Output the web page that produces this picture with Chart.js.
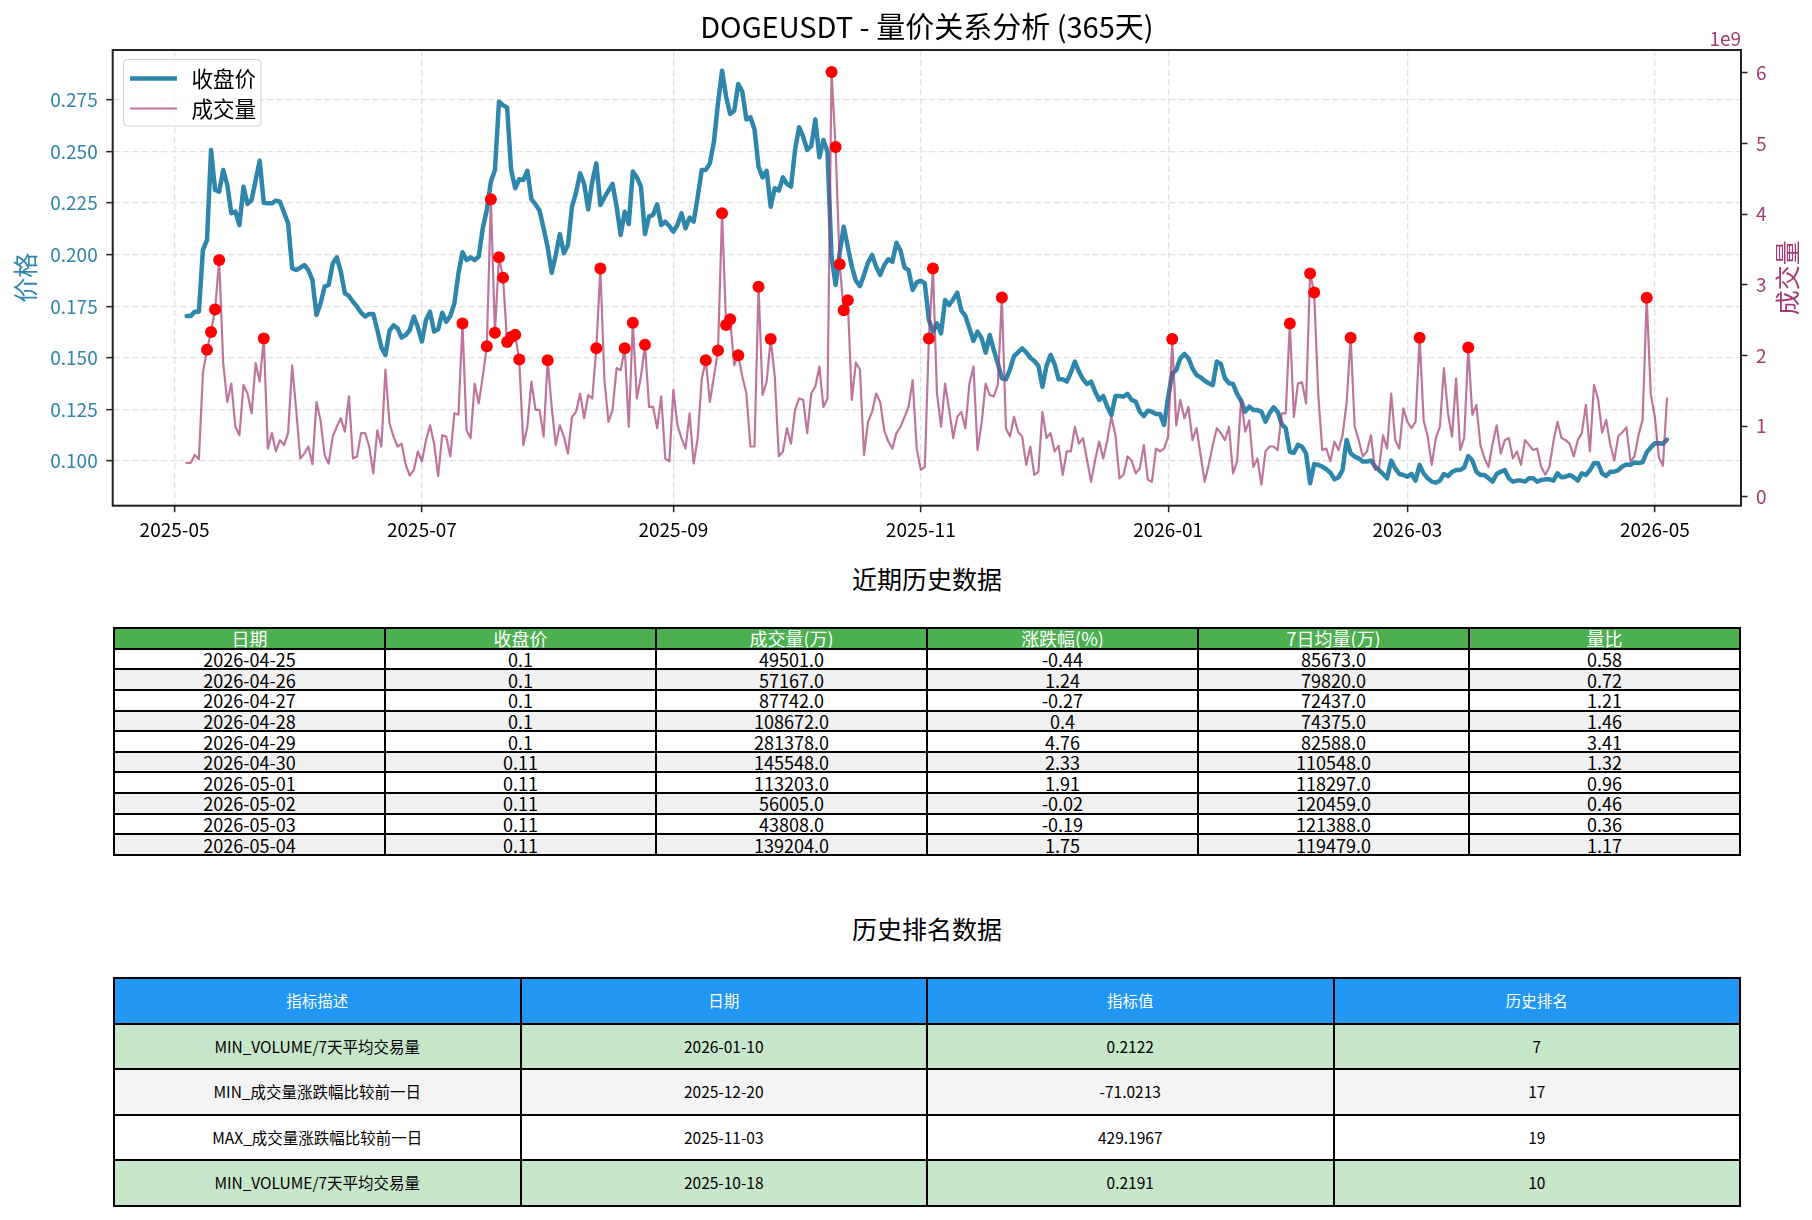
<!DOCTYPE html>
<html lang="zh-CN">
<head>
<meta charset="utf-8">
<title>DOGEUSDT - 量价关系分析</title>
<script src="https://cdn.jsdelivr.net/npm/chart.js@4.4.1/dist/chart.umd.min.js"></script>
<style>
    body { margin: 0; background: #fff; font-family: "Noto Sans CJK SC", sans-serif; }
    #page { position: relative; width: 1812px; height: 1220px; overflow: hidden; }
    #mainChart { position: absolute; left: 0; top: 0; }
    .block-title { position: absolute; left: 113px; width: 1628px; height: 30px; line-height: 30px; text-align: center; font-size: 25px; color: #000; }
    .grid-table { position: absolute; left: 113px; width: 1628px; display: grid; box-sizing: border-box; border-top: 2px solid #000; border-left: 2px solid #000; }
    .grid-table div { box-sizing: border-box; border-right: 2px solid #000; border-bottom: 2px solid #000; display: flex; align-items: center; justify-content: center; white-space: nowrap; overflow: hidden; line-height: 1; }
    #recentTable { top: 627px; grid-template-columns: repeat(6, 1fr); grid-auto-rows: 20.65px; font-size: 18px; }
    #rankTable { top: 977px; grid-template-columns: repeat(4, 1fr); grid-auto-rows: 45.55px; font-size: 15.5px; }
    .head-green { background: #4CAF50; color: #fff; }
    .head-blue { background: #2196F3; color: #fff; }
</style>
</head>
<body>
<div id="page">
    <canvas id="mainChart" width="1812" height="540"></canvas>
    <div class="block-title" style="top: 563px;">近期历史数据</div>
    <div id="recentTable" class="grid-table"></div>
    <div class="block-title" style="top: 913px;">历史排名数据</div>
    <div id="rankTable" class="grid-table"></div>
</div>
<script>
// daily data, first day 2025-05-04
const startDay = '2025-05-04';

const closePrice = [
    0.1703,0.1703,0.1724,0.1724,0.2023,0.2071,0.2508,0.2314,0.2306,0.2411,
    0.2338,0.2201,0.2209,0.2144,0.2330,0.2246,0.2265,0.2362,0.2456,0.2252,
    0.2249,0.2249,0.2262,0.2257,0.2204,0.2152,0.1934,0.1926,0.1937,0.1950,
    0.1926,0.1877,0.1708,0.1764,0.1845,0.1853,0.1958,0.1987,0.1918,0.1813,
    0.1800,0.1772,0.1748,0.1719,0.1700,0.1713,0.1713,0.1635,0.1551,0.1514,
    0.1632,0.1658,0.1643,0.1598,0.1611,0.1635,0.1700,0.1648,0.1579,0.1684,
    0.1724,0.1627,0.1638,0.1719,0.1675,0.1703,0.1764,0.1910,0.2012,0.1974,
    0.1987,0.1974,0.1991,0.2128,0.2217,0.2354,0.2411,0.2742,0.2724,0.2714,
    0.2411,0.2322,0.2366,0.2362,0.2407,0.2269,0.2244,0.2214,0.2128,0.2036,
    0.1913,0.1999,0.2100,0.2007,0.2047,0.2233,0.2301,0.2395,0.2343,0.2220,
    0.2354,0.2443,0.2241,0.2278,0.2311,0.2343,0.2233,0.2096,0.2209,0.2149,
    0.2403,0.2375,0.2330,0.2100,0.2185,0.2193,0.2244,0.2144,0.2160,0.2139,
    0.2112,0.2144,0.2201,0.2128,0.2180,0.2160,0.2281,0.2411,0.2411,0.2443,
    0.2548,0.2734,0.2892,0.2766,0.2682,0.2698,0.2828,0.2790,0.2656,0.2666,
    0.2608,0.2427,0.2375,0.2407,0.2233,0.2322,0.2311,0.2375,0.2343,0.2330,
    0.2508,0.2618,0.2572,0.2508,0.2527,0.2656,0.2472,0.2556,0.2500,0.1991,
    0.1853,0.2007,0.2136,0.2039,0.1942,0.1874,0.1848,0.1902,0.1962,0.1999,
    0.1942,0.1902,0.1950,0.1978,0.1966,0.2058,0.2020,0.1938,0.1925,0.1829,
    0.1866,0.1874,0.1861,0.1684,0.1627,0.1667,0.1619,0.1780,0.1756,0.1784,
    0.1816,0.1729,0.1703,0.1643,0.1582,0.1627,0.1595,0.1525,0.1611,0.1538,
    0.1473,0.1401,0.1396,0.1444,0.1509,0.1527,0.1546,0.1527,0.1501,0.1485,
    0.1461,0.1360,0.1461,0.1514,0.1470,0.1396,0.1396,0.1385,0.1428,0.1482,
    0.1433,0.1396,0.1373,0.1385,0.1336,0.1296,0.1315,0.1263,0.1223,0.1315,
    0.1315,0.1312,0.1325,0.1296,0.1288,0.1239,0.1218,0.1244,0.1239,0.1228,
    0.1228,0.1175,0.1309,0.1425,0.1441,0.1498,0.1519,0.1498,0.1449,0.1417,
    0.1406,0.1389,0.1377,0.1368,0.1482,0.1470,0.1401,0.1377,0.1373,0.1325,
    0.1292,0.1239,0.1263,0.1247,0.1247,0.1239,0.1191,0.1231,0.1260,0.1239,
    0.1179,0.1158,0.1045,0.1040,0.1078,0.1069,0.1037,0.0892,0.0985,0.0981,
    0.0973,0.0960,0.0943,0.0911,0.0921,0.0956,0.1102,0.1037,0.1021,0.1013,
    0.0997,0.0997,0.1002,0.0973,0.0956,0.0937,0.0916,0.1002,0.0964,0.0937,
    0.0932,0.0924,0.0937,0.0905,0.0981,0.0940,0.0916,0.0900,0.0895,0.0905,
    0.0937,0.0927,0.0947,0.0956,0.0956,0.0969,0.1024,0.1002,0.0948,0.0932,
    0.0932,0.0916,0.0900,0.0937,0.0948,0.0956,0.0916,0.0900,0.0905,0.0905,
    0.0900,0.0916,0.0916,0.0900,0.0908,0.0911,0.0911,0.0905,0.0940,0.0921,
    0.0924,0.0932,0.0921,0.0905,0.0940,0.0932,0.0956,0.0989,0.0989,0.0940,
    0.0927,0.0948,0.0948,0.0956,0.0973,0.0983,0.0981,0.0993,0.0990,0.0994,
    0.1042,0.1066,0.1086,0.1086,0.1084,0.1103
];

// volume in units of 1e9
const volume = [
    0.48,0.48,0.59,0.53,1.75,2.08,2.33,2.65,3.35,1.89,
    1.34,1.60,0.99,0.87,1.58,1.46,1.18,1.89,1.63,2.24,
    0.68,0.90,0.64,0.80,0.73,0.90,1.86,1.23,0.54,0.61,
    0.71,0.46,1.34,1.08,0.59,0.47,0.85,0.99,1.11,0.92,
    1.42,0.54,0.57,0.90,0.90,0.71,0.33,0.94,0.71,1.80,
    1.04,0.85,0.71,0.75,0.45,0.30,0.38,0.64,0.50,0.80,
    1.01,0.75,0.29,0.87,0.85,0.57,1.18,1.16,2.45,0.94,
    0.83,1.60,1.32,1.70,2.13,4.21,2.32,3.39,3.10,2.19,
    2.26,2.29,1.94,0.73,0.99,1.63,1.23,1.23,0.85,1.93,
    1.27,0.73,1.01,0.85,0.61,1.13,1.20,1.46,1.11,1.44,
    1.39,2.10,3.23,1.65,1.06,1.23,1.82,1.79,2.10,0.99,
    2.46,1.39,1.70,2.15,1.27,1.27,0.97,1.42,0.54,0.50,
    1.51,1.01,0.83,0.68,1.18,0.47,0.83,1.67,1.93,1.34,
    1.70,2.07,4.01,2.43,2.51,1.86,2.00,1.70,1.46,0.71,
    0.71,2.97,1.44,1.63,2.23,1.70,0.57,0.64,0.97,0.75,
    1.23,1.39,1.37,0.90,1.46,1.56,1.84,1.27,1.39,6.01,
    4.95,3.29,2.64,2.78,1.37,1.90,1.80,0.59,1.06,1.20,
    1.46,1.34,0.94,0.78,0.68,0.90,0.99,1.13,1.27,1.65,
    0.68,0.38,0.42,2.24,3.23,1.46,0.99,1.60,1.23,0.83,
    1.13,1.20,0.97,1.60,1.84,0.66,1.04,1.60,1.44,1.42,
    1.58,2.82,0.97,0.85,1.13,0.92,0.85,0.45,0.71,0.31,
    0.35,1.20,0.83,0.90,0.64,0.72,0.31,0.64,0.64,0.99,
    0.75,0.83,0.52,0.21,0.52,0.78,0.54,0.80,1.13,0.87,
    0.26,0.31,0.57,0.51,0.33,0.40,0.73,0.24,0.21,0.68,
    0.64,0.68,0.85,2.23,1.01,1.37,1.11,1.27,0.80,0.97,
    0.59,0.21,0.45,0.73,0.97,0.90,0.80,0.99,0.33,0.50,
    1.37,0.92,1.08,0.42,0.54,0.17,0.64,0.71,0.71,0.66,
    1.18,1.18,2.45,1.13,1.60,1.62,1.32,3.16,2.89,1.46,
    0.66,0.68,0.50,0.78,0.66,0.87,1.32,2.25,0.99,0.80,
    0.57,0.64,0.87,0.38,0.40,0.87,0.68,1.46,0.80,0.68,
    1.25,1.06,0.97,1.06,2.25,1.08,0.85,0.45,0.83,0.99,
    1.82,1.18,0.85,1.67,0.66,0.83,2.11,1.16,1.30,0.73,
    0.54,0.42,0.75,1.01,0.61,0.80,0.83,0.54,0.64,0.45,
    0.80,0.73,0.66,0.68,0.42,0.31,0.42,0.78,1.06,0.83,
    0.80,0.75,0.57,0.80,0.90,1.30,0.64,1.58,1.39,0.905,
    1.088,0.741,0.512,0.857,0.913,0.981,0.495,0.572,0.877,1.087,
    2.814,1.455,1.132,0.560,0.438,1.392
];

// days (index into the series) flagged as volume spikes
const spikeDays = [5, 6, 7, 8, 19, 68, 74, 75, 76, 77, 78, 79, 80, 81, 82, 89, 101, 102, 108, 110, 113,
    128, 131, 132, 133, 134, 136, 141, 144, 159, 160, 161, 162, 163, 183, 184, 201, 243, 272, 277, 278,
    287, 304, 316, 360];

const xTickLabels = ['2025-05', '2025-07', '2025-09', '2025-11', '2026-01', '2026-03', '2026-05'];
const priceTicks = [0.100, 0.125, 0.150, 0.175, 0.200, 0.225, 0.250, 0.275];
const volumeTicks = [0, 1, 2, 3, 4, 5, 6];

// recent history table
const recentHead = ['日期', '收盘价', '成交量(万)', '涨跌幅(%)', '7日均量(万)', '量比'];
const recentDates = ['2026-04-25', '2026-04-26', '2026-04-27', '2026-04-28', '2026-04-29',
    '2026-04-30', '2026-05-01', '2026-05-02', '2026-05-03', '2026-05-04'];
const recentClose = [0.1, 0.1, 0.1, 0.1, 0.1, 0.11, 0.11, 0.11, 0.11, 0.11];
const recentVolWan = [49501, 57167, 87742, 108672, 281378, 145548, 113203, 56005, 43808, 139204];
const recentChange = [-0.44, 1.24, -0.27, 0.4, 4.76, 2.33, 1.91, -0.02, -0.19, 1.75];
const recentAvg7 = [85673, 79820, 72437, 74375, 82588, 110548, 118297, 120459, 121388, 119479];
const recentRatio = [0.58, 0.72, 1.21, 1.46, 3.41, 1.32, 0.96, 0.46, 0.36, 1.17];

// ranking table
const rankHead = ['指标描述', '日期', '指标值', '历史排名'];
const rankDesc = ['MIN_VOLUME/7天平均交易量', 'MIN_成交量涨跌幅比较前一日', 'MAX_成交量涨跌幅比较前一日', 'MIN_VOLUME/7天平均交易量'];
const rankDate = ['2026-01-10', '2025-12-20', '2025-11-03', '2025-10-18'];
const rankValue = [0.2122, -71.0213, 429.1967, 0.2191];
const rankPos = [7, 17, 19, 10];

const chartTitle = 'DOGEUSDT - 量价关系分析 (365天)';
const fontFamily = '"Noto Sans CJK SC", sans-serif';
const priceColor = '#2E86AB';
const volColor = '#A23B72';

document.addEventListener('DOMContentLoaded', function() {

    const dayMs = 86400000;
    const start = Date.parse(startDay + 'T00:00:00Z');
    const xTickDays = xTickLabels.map(s => (Date.UTC(+s.slice(0, 4), +s.slice(5, 7) - 1, 1) - start) / dayMs);

    const pricePoints = closePrice.map((p, i) => ({ x: i, y: p }));
    const volumePoints = volume.map((v, i) => ({ x: i, y: v }));
    const spikePoints = spikeDays.map(d => ({ x: d, y: volume[d] }));

    const gridColor = '#e2e2e2';
    const gridDash = [6.7, 2.9];
    const tickFont = { family: fontFamily, size: 19 };

    // title, frame, legend, axis titles
    const decorPlugin = {
        id: 'decor',
        afterDraw(chart) {
            const ctx = chart.ctx;
            const a = chart.chartArea;
            ctx.save();

            ctx.strokeStyle = '#222';
            ctx.lineWidth = 2;
            ctx.strokeRect(a.left, a.top, a.right - a.left, a.bottom - a.top);

            ctx.fillStyle = '#000';
            ctx.font = '29px ' + fontFamily;
            ctx.textAlign = 'center';
            ctx.textBaseline = 'middle';
            ctx.fillText(chartTitle, (a.left + a.right) / 2, 27);

            ctx.fillStyle = volColor;
            ctx.font = '19px ' + fontFamily;
            ctx.textAlign = 'right';
            ctx.fillText('1e9', a.right, 39);

            const midY = (a.top + a.bottom) / 2;
            ctx.font = '25px ' + fontFamily;
            ctx.textAlign = 'center';
            ctx.save();
            ctx.translate(25, midY);
            ctx.rotate(-Math.PI / 2);
            ctx.fillStyle = priceColor;
            ctx.fillText('价格', 0, 0);
            ctx.restore();
            ctx.save();
            ctx.translate(1787, midY);
            ctx.rotate(-Math.PI / 2);
            ctx.fillStyle = volColor;
            ctx.fillText('成交量', 0, 0);
            ctx.restore();

            // legend box
            ctx.beginPath();
            ctx.roundRect(123.5, 59.5, 137.5, 66.5, 4);
            ctx.fillStyle = 'rgba(255,255,255,0.8)';
            ctx.fill();
            ctx.strokeStyle = '#d0d0d0';
            ctx.lineWidth = 1;
            ctx.stroke();

            ctx.lineCap = 'butt';
            ctx.strokeStyle = priceColor;
            ctx.lineWidth = 4.5;
            ctx.beginPath();
            ctx.moveTo(130, 78.5);
            ctx.lineTo(177, 78.5);
            ctx.stroke();
            ctx.strokeStyle = 'rgba(162, 59, 114, 0.7)';
            ctx.lineWidth = 2.2;
            ctx.beginPath();
            ctx.moveTo(130, 108.5);
            ctx.lineTo(177, 108.5);
            ctx.stroke();

            ctx.fillStyle = '#000';
            ctx.font = '21.5px ' + fontFamily;
            ctx.textAlign = 'left';
            ctx.fillText('收盘价', 191.5, 79);
            ctx.fillText('成交量', 191.5, 109);

            ctx.restore();
        }
    };

    new Chart(document.getElementById('mainChart'), {
        type: 'line',
        data: {
            datasets: [
                {
                    label: 'spike',
                    data: spikePoints,
                    yAxisID: 'yVol',
                    showLine: false,
                    pointRadius: 6,
                    pointBackgroundColor: '#ff0000',
                    pointBorderWidth: 0,
                    order: 1
                },
                {
                    label: '成交量',
                    data: volumePoints,
                    yAxisID: 'yVol',
                    borderColor: 'rgba(162, 59, 114, 0.7)',
                    borderWidth: 2.2,
                    pointRadius: 0,
                    order: 2
                },
                {
                    label: '收盘价',
                    data: pricePoints,
                    yAxisID: 'yPrice',
                    borderColor: priceColor,
                    borderWidth: 4.5,
                    pointRadius: 0,
                    order: 3
                }
            ]
        },
        options: {
            responsive: false,
            animation: false,
            events: [],
            layout: { padding: { top: 50, left: 0, right: 0, bottom: 0 } },
            elements: { line: { tension: 0, borderJoinStyle: 'round', borderCapStyle: 'round' } },
            plugins: {
                legend: { display: false },
                tooltip: { enabled: false },
                title: { display: false }
            },
            scales: {
                x: {
                    type: 'linear',
                    min: -18.25,
                    max: 383.25,
                    bounds: 'data',
                    afterBuildTicks: s => { s.ticks = xTickDays.map(v => ({ value: v })); },
                    afterFit: s => { s.height = 34.3; },
                    ticks: {
                        autoSkip: false, maxRotation: 0, minRotation: 0, padding: 6,
                        color: '#000', font: tickFont,
                        callback: (v, i) => xTickLabels[i]
                    },
                    grid: { color: gridColor, lineWidth: 1.3, tickLength: 6.5, tickColor: '#222', tickWidth: 1.5, tickBorderDash: [] },
                    border: { display: false, dash: gridDash }
                },
                yPrice: {
                    type: 'linear',
                    position: 'left',
                    min: 0.07833,
                    max: 0.29924,
                    bounds: 'data',
                    afterBuildTicks: s => { s.ticks = priceTicks.map(v => ({ value: v })); },
                    afterFit: s => { s.width = 112.7; },
                    ticks: {
                        autoSkip: false, padding: 8.5, color: priceColor, font: tickFont,
                        callback: v => v.toFixed(3)
                    },
                    grid: { color: gridColor, lineWidth: 1.3, tickLength: 6.5, tickColor: '#222', tickWidth: 1.5, tickBorderDash: [] },
                    border: { display: false, dash: gridDash }
                },
                yVol: {
                    type: 'linear',
                    position: 'right',
                    min: -0.1274,
                    max: 6.3212,
                    bounds: 'data',
                    afterBuildTicks: s => { s.ticks = volumeTicks.map(v => ({ value: v })); },
                    afterFit: s => { s.width = 71; },
                    ticks: {
                        autoSkip: false, padding: 8.5, color: volColor, font: tickFont,
                        callback: v => String(v)
                    },
                    grid: { drawOnChartArea: false, tickLength: 6.5, tickColor: '#222', tickWidth: 1.5 },
                    border: { display: false }
                }
            }
        },
        plugins: [decorPlugin]
    });

    // tables
    function addCell(table, text, cls, bg) {
        const cell = document.createElement('div');
        cell.textContent = text;
        if (cls) cell.className = cls;
        if (bg) cell.style.background = bg;
        table.appendChild(cell);
    }

    const recentTable = document.getElementById('recentTable');
    recentHead.forEach(h => addCell(recentTable, h, 'head-green'));
    recentDates.forEach((d, i) => {
        const bg = i % 2 === 1 ? '#f0f0f0' : '#ffffff';
        addCell(recentTable, d, null, bg);
        addCell(recentTable, String(recentClose[i]), null, bg);
        addCell(recentTable, recentVolWan[i].toFixed(1), null, bg);
        addCell(recentTable, String(recentChange[i]), null, bg);
        addCell(recentTable, recentAvg7[i].toFixed(1), null, bg);
        addCell(recentTable, String(recentRatio[i]), null, bg);
    });

    const rankBg = ['#C8E6C9', '#f4f4f4', '#ffffff', '#C8E6C9'];
    const rankTable = document.getElementById('rankTable');
    rankHead.forEach(h => addCell(rankTable, h, 'head-blue'));
    rankDesc.forEach((d, i) => {
        addCell(rankTable, d, null, rankBg[i]);
        addCell(rankTable, rankDate[i], null, rankBg[i]);
        addCell(rankTable, String(rankValue[i]), null, rankBg[i]);
        addCell(rankTable, String(rankPos[i]), null, rankBg[i]);
    });
});
</script>
</body>
</html>
